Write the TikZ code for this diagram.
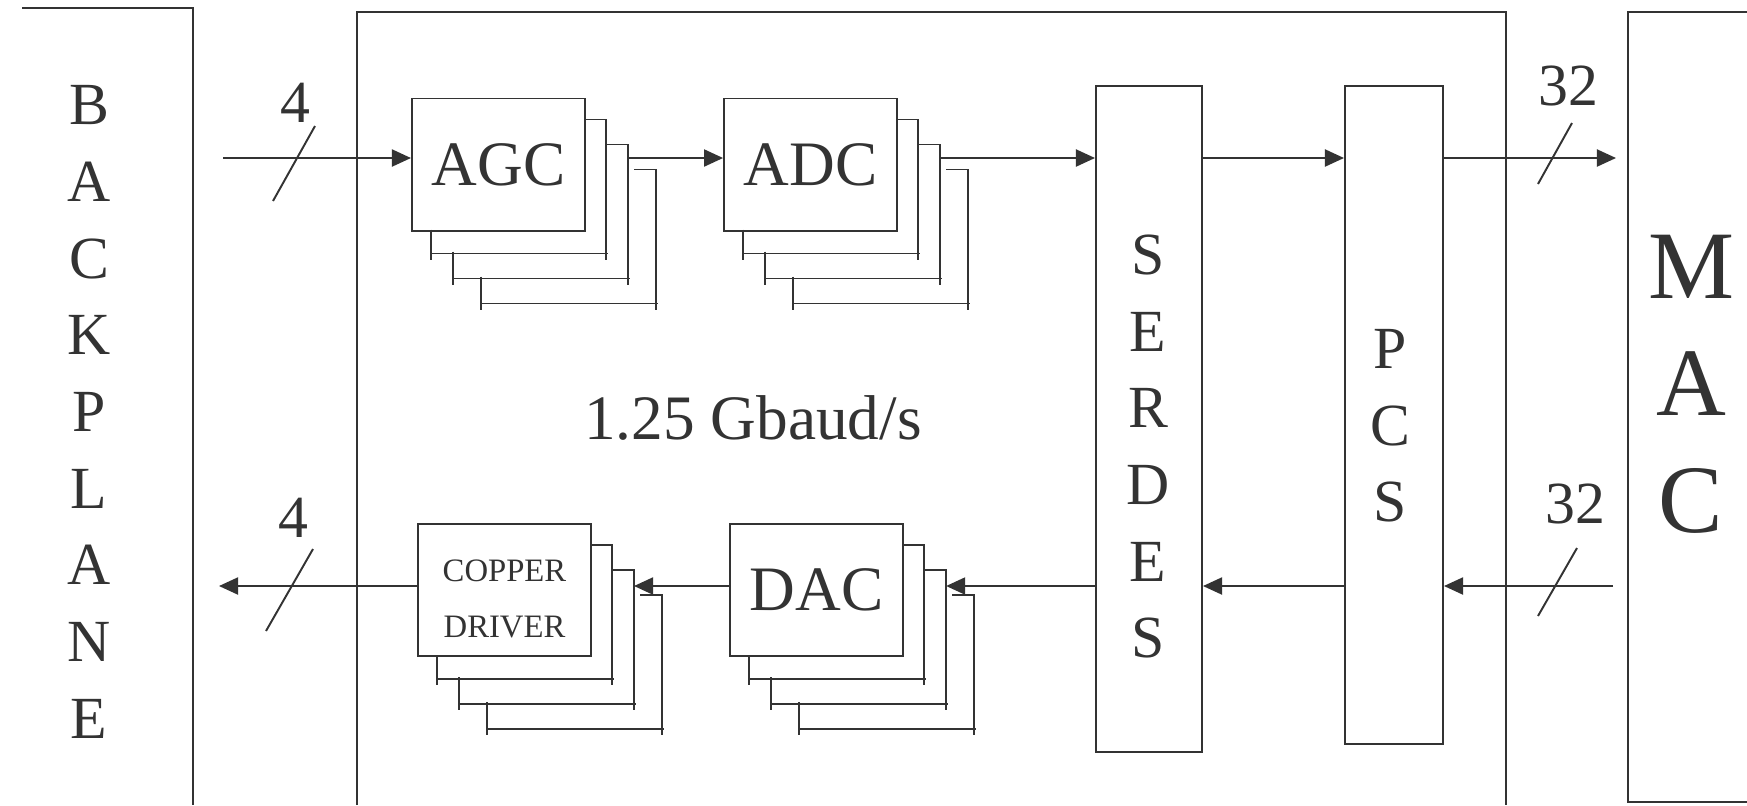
\documentclass[tikz,border=0pt]{standalone}
\usepackage{fontspec}
\setmainfont{Liberation Serif}
\usetikzlibrary{positioning,calc,arrows.meta}
\definecolor{ink}{HTML}{333333}

% the three copies drawn behind a block
\newcommand{\cardstack}[1]{%
  \foreach \dx/\dy/\sx/\py in {20/22/-2/0, 42/47/20/22, 70/72/48/47} {
    \draw ($(#1.north east)+(\sx,\dy)$) -- ($(#1.north east)+(\dx,\dy)$) -- ($(#1.south east)+(\dx,{\dy+6})$);
    \draw ($(#1.south west)+(\dx,{\py-2})$) -- ($(#1.south west)+(\dx,{\dy+6})$);
    \draw ($(#1.south west)+(\dx,\dy)$) -- ($(#1.south east)+({\dx+2},\dy)$);
  }
  \coordinate (#1-out) at ($(#1.east)+(42,0)$);
}

\begin{document}
\begin{tikzpicture}[x=0.01cm, y=-0.01cm, line width=0.55pt, color=ink,
  box/.style={draw, inner sep=0pt, minimum width=1.73cm, minimum height=1.32cm, font=\fontsize{18}{20}\selectfont},
  col/.style={draw, inner sep=0pt},
  letters/.style={align=center, inner sep=0pt, font=\fontsize{17}{21.8}\selectfont},
  num/.style={inner sep=0pt, font=\fontsize{17}{20}\selectfont},
  arr/.style={-{Triangle[length=0.19cm, width=0.17cm]}}]
  \useasboundingbox (0,0) rectangle (1747,805);

  % outer frames
  \draw (22,8) -- (193,8) -- (193,805);
  \draw (357,805) -- (357,12) -- (1506,12) -- (1506,805);
  \draw (1747,12) -- (1628,12) -- (1628,802) -- (1747,802);
  \node[letters] (bp) at (89,412) {B\\A\\C\\K\\P\\L\\A\\N\\E};
  \node[letters, font=\fontsize{27.5}{33.3}\selectfont] (mac) at (1691,384) {M\\A\\C};

  % blocks
  \node[box] (agc) at (498.5,164.5) {AGC};
  \node[box, right=1.37cm of agc] (adc) {ADC};
  \node[box] (cd) at (504.5,590) {};
  \node[align=center, inner sep=0pt, font=\fontsize{9.3}{15.9}\selectfont] (cdtxt) at ($(cd.center)+(0,9)$) {COPPER\\DRIVER};
  \node[box, right=1.37cm of cd] (dac) {DAC};
  \cardstack{agc}
  \cardstack{adc}
  \cardstack{cd}
  \cardstack{dac}

  \node[col, minimum width=1.06cm, minimum height=6.66cm] (serdes) at (1149,419) {};
  \node[letters] (serdestxt) at (1148,446.5) {S\\E\\R\\D\\E\\S};
  \node[col, minimum width=0.98cm, minimum height=6.58cm] (pcs) at (1394,415) {};
  \node[letters] (pcstxt) at (1390,426) {P\\C\\S};

  \node[font=\fontsize{18}{20}\selectfont, inner sep=0pt] (rate) at (753,418) {1.25 Gbaud/s};

  % bus ends
  \coordinate (in4) at (223,158);
  \coordinate (out4) at (219,586);
  \coordinate (out32) at (1616,158);
  \coordinate (in32) at (1613,586);

  % receive path
  \draw[arr] (in4) -- (in4 -| agc.west);
  \draw[arr] (agc-out |- in4) -- (in4 -| adc.west);
  \draw[arr] (adc-out |- in4) -- (in4 -| serdes.west);
  \draw[arr] (in4 -| serdes.east) -- (in4 -| pcs.west);
  \draw[arr] (in4 -| pcs.east) -- (out32);

  % transmit path
  \draw[arr] (in32) -- (in32 -| pcs.east);
  \draw[arr] (in32 -| pcs.west) -- (in32 -| serdes.east);
  \draw[arr] (in32 -| serdes.west) -- (dac-out |- in32);
  \draw[arr] (in32 -| dac.west) -- (cd-out |- in32);
  \draw[arr] (in32 -| cd.west) -- (out4);

  % bus widths
  \draw (273,201) -- (315,126);
  \draw (266,631) -- (313,549);
  \draw (1538,184) -- (1572,123);
  \draw (1538,616) -- (1577,548);
  \node[num] (w4a) at (295,103) {4};
  \node[num] (w4b) at (293,518) {4};
  \node[num] (w32a) at (1568,86) {32};
  \node[num] (w32b) at (1575,504) {32};
\end{tikzpicture}
\end{document}
